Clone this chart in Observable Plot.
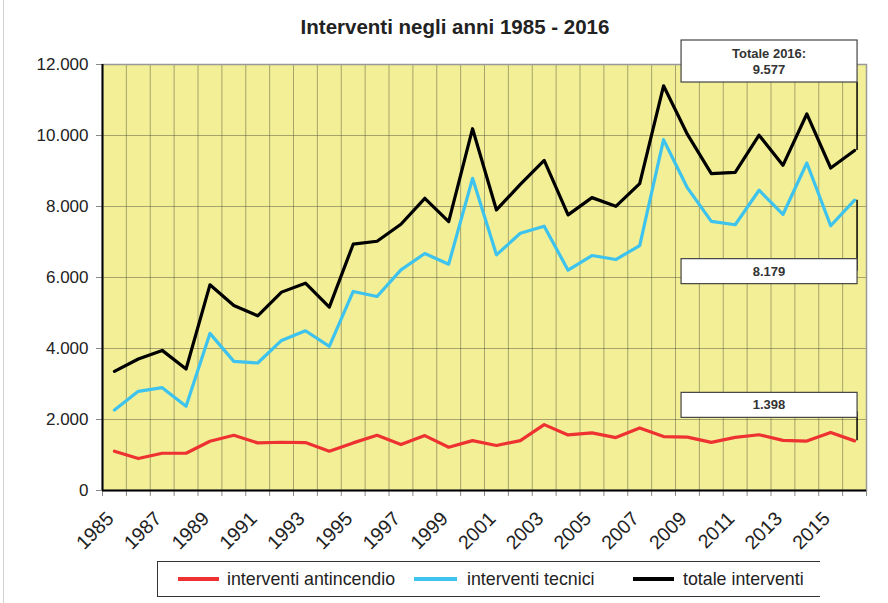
<!DOCTYPE html>
<html><head><meta charset="utf-8">
<script src="https://cdn.jsdelivr.net/npm/d3@7"></script>
<script src="https://cdn.jsdelivr.net/npm/@observablehq/plot@0.6"></script>
<style>
body{margin:0;background:#fff;font-family:"Liberation Sans",Arial,sans-serif;}
#wrap{position:relative;width:888px;height:603px;overflow:hidden;background:#fff;}
#edge{position:absolute;left:3px;top:0;width:0;height:603px;border-left:1px solid #d0d0d0;}
#title{position:absolute;left:0;width:910px;top:15px;text-align:center;font-weight:bold;font-size:20.5px;color:#222;line-height:24px;}
#chart{position:absolute;left:0;top:36px;}
#legend{position:absolute;left:157px;top:561px;width:663px;height:36px;border:1px solid #333;border-right:none;box-sizing:border-box;}
.sw{position:absolute;top:15px;height:4px;}
.lt{position:absolute;top:6px;font-size:17.8px;line-height:22px;color:#222;white-space:nowrap;}
</style></head>
<body><div id="wrap"><div id="edge"></div><div id="title">Interventi negli anni 1985 - 2016</div><div id="chart"></div><div id="legend"></div></div>
<script>
// ---- data ----
const years = [1985,1986,1987,1988,1989,1990,1991,1992,1993,1994,1995,1996,1997,1998,1999,2000,2001,2002,2003,2004,2005,2006,2007,2008,2009,2010,2011,2012,2013,2014,2015,2016];
const antincendio = [1106,900,1050,1050,1388,1556,1341,1359,1350,1106,1341,1556,1294,1547,1219,1406,1266,1406,1856,1566,1622,1491,1763,1519,1505,1355,1495,1570,1411,1393,1636,1398];
const tecnici = [2269,2794,2897,2372,4425,3638,3591,4228,4500,4059,5606,5466,6216,6675,6375,8794,6638,7247,7444,6206,6619,6506,6900,9881,8523,7579,7486,8458,7776,9224,7458,8179];
const totale = [3356,3703,3947,3422,5794,5213,4922,5588,5841,5166,6938,7022,7500,8231,7575,10191,7903,8625,9300,7763,8250,8006,8644,11400,10030,8925,8963,10009,9159,10607,9084,9577];
const seriesNames = ["interventi antincendio","interventi tecnici","totale interventi"];
const seriesColors = ["#EE3131","#3DC3EE","#000000"];
const yTicks = [0,2000,4000,6000,8000,10000,12000];
const labelYears = [1985,1987,1989,1991,1993,1995,1997,1999,2001,2003,2005,2007,2009,2011,2013,2015];

// ---- build ----
const itFmt = d3.formatLocale({decimal:",",thousands:".",grouping:[3],currency:["€",""]}).format(",d");
const seriesValues = [antincendio, tecnici, totale];
const rows = [];
seriesNames.forEach((s,k)=>years.forEach((yr,i)=>rows.push({year:yr,value:seriesValues[k][i],serie:s})));
const bounds = years.map(y=>y-0.5).concat([years[years.length-1]+0.5]);

function annotations(index, scales, values, dimensions) {
  const {x, y} = scales;
  const last = years.length - 1;
  const xr = x(years[last]) + 3, w = 176;
  const g = d3.create("svg:g")
    .attr("font-family","Liberation Sans, Arial, sans-serif")
    .attr("font-weight","bold").attr("font-size",13).attr("fill","#333");
  const pT = y(totale[last]), pC = y(tecnici[last]), pA = y(antincendio[last]);
  const specs = [
    {top: dimensions.marginTop - 24, h: 42, lines: ["Totale " + years[last] + ":", itFmt(totale[last])], l1: dimensions.marginTop + 18, l2: pT},
    {top: pC + 59, h: 25, lines: [itFmt(tecnici[last])], l1: pC, l2: pC + 71},
    {top: pA - 48, h: 25, lines: [itFmt(antincendio[last])], l1: pA - 29, l2: pA}
  ];
  for (const s of specs) {
    g.append("line").attr("x1",xr).attr("x2",xr).attr("y1",s.l1).attr("y2",s.l2).attr("stroke","#000").attr("stroke-width",1.5);
  }
  for (const s of specs) {
    g.append("rect").attr("x",xr-w).attr("y",s.top).attr("width",w).attr("height",s.h)
      .attr("fill","#fff").attr("stroke","#444").attr("stroke-width",1.2);
    const n = s.lines.length;
    s.lines.forEach((t,i)=>{
      g.append("text").attr("x",xr-w/2).attr("y", s.top + (n===1 ? s.h/2 : 13.3 + i*16))
        .attr("text-anchor","middle").attr("dominant-baseline","central").text(t);
    });
  }
  return g.node();
}

const plot = Plot.plot({
  width: 888, height: 516,
  marginLeft: 102, marginRight: 22, marginTop: 28, marginBottom: 62,
  x: {domain: [bounds[0], bounds[bounds.length-1]]},
  y: {domain: [0, 12000]},
  color: {domain: seriesNames, range: seriesColors},
  style: {fontFamily: "Liberation Sans, Arial, sans-serif", color: "#222", background: "transparent", overflow: "visible"},
  marks: [
    Plot.frame({fill: "#F2EF96", stroke: "none"}),
    Plot.ruleY(yTicks.slice(1), {stroke: "#4a4a3a", strokeOpacity: 0.45}),
    Plot.ruleX(bounds.slice(1, -1), {stroke: "#4a4a3a", strokeOpacity: 0.45}),
    Plot.frame({stroke: "#999", strokeWidth: 1.5}),
    Plot.axisY({ticks: yTicks, tickFormat: itFmt, tickSize: 6, tickPadding: 8, fontSize: 17, stroke: "#888", label: null}),
    Plot.axisX({ticks: bounds, tickFormat: () => "", tickSize: 6, stroke: "#888", label: null}),
    Plot.axisX({ticks: labelYears, tickSize: 0, tickRotate: -45, fontSize: 19.5, tickPadding: 13, dy: 12, dx: -4, tickFormat: d => String(d), label: null}),
    Plot.ruleX([bounds[0]], {stroke: "#000", strokeWidth: 2}),
    Plot.ruleY([0], {stroke: "#000", strokeWidth: 2}),
    Plot.line(rows, {x: "year", y: "value", z: "serie", stroke: "serie", strokeWidth: 3.2}),
    annotations
  ]
});
document.getElementById("chart").appendChild(plot);

// legend
const legendOffsets = [[20,41,69],[256,43,309],[475,41,525]];
const leg = document.getElementById("legend");
seriesNames.forEach((s,i)=>{
  const [sx, sw, tx] = legendOffsets[i];
  const a = document.createElement("div"); a.className="sw";
  a.style.left = sx+"px"; a.style.width = sw+"px"; a.style.background = seriesColors[i];
  const t = document.createElement("div"); t.className="lt"; t.style.left = tx+"px"; t.textContent = s;
  leg.appendChild(a); leg.appendChild(t);
});
</script></body></html>
